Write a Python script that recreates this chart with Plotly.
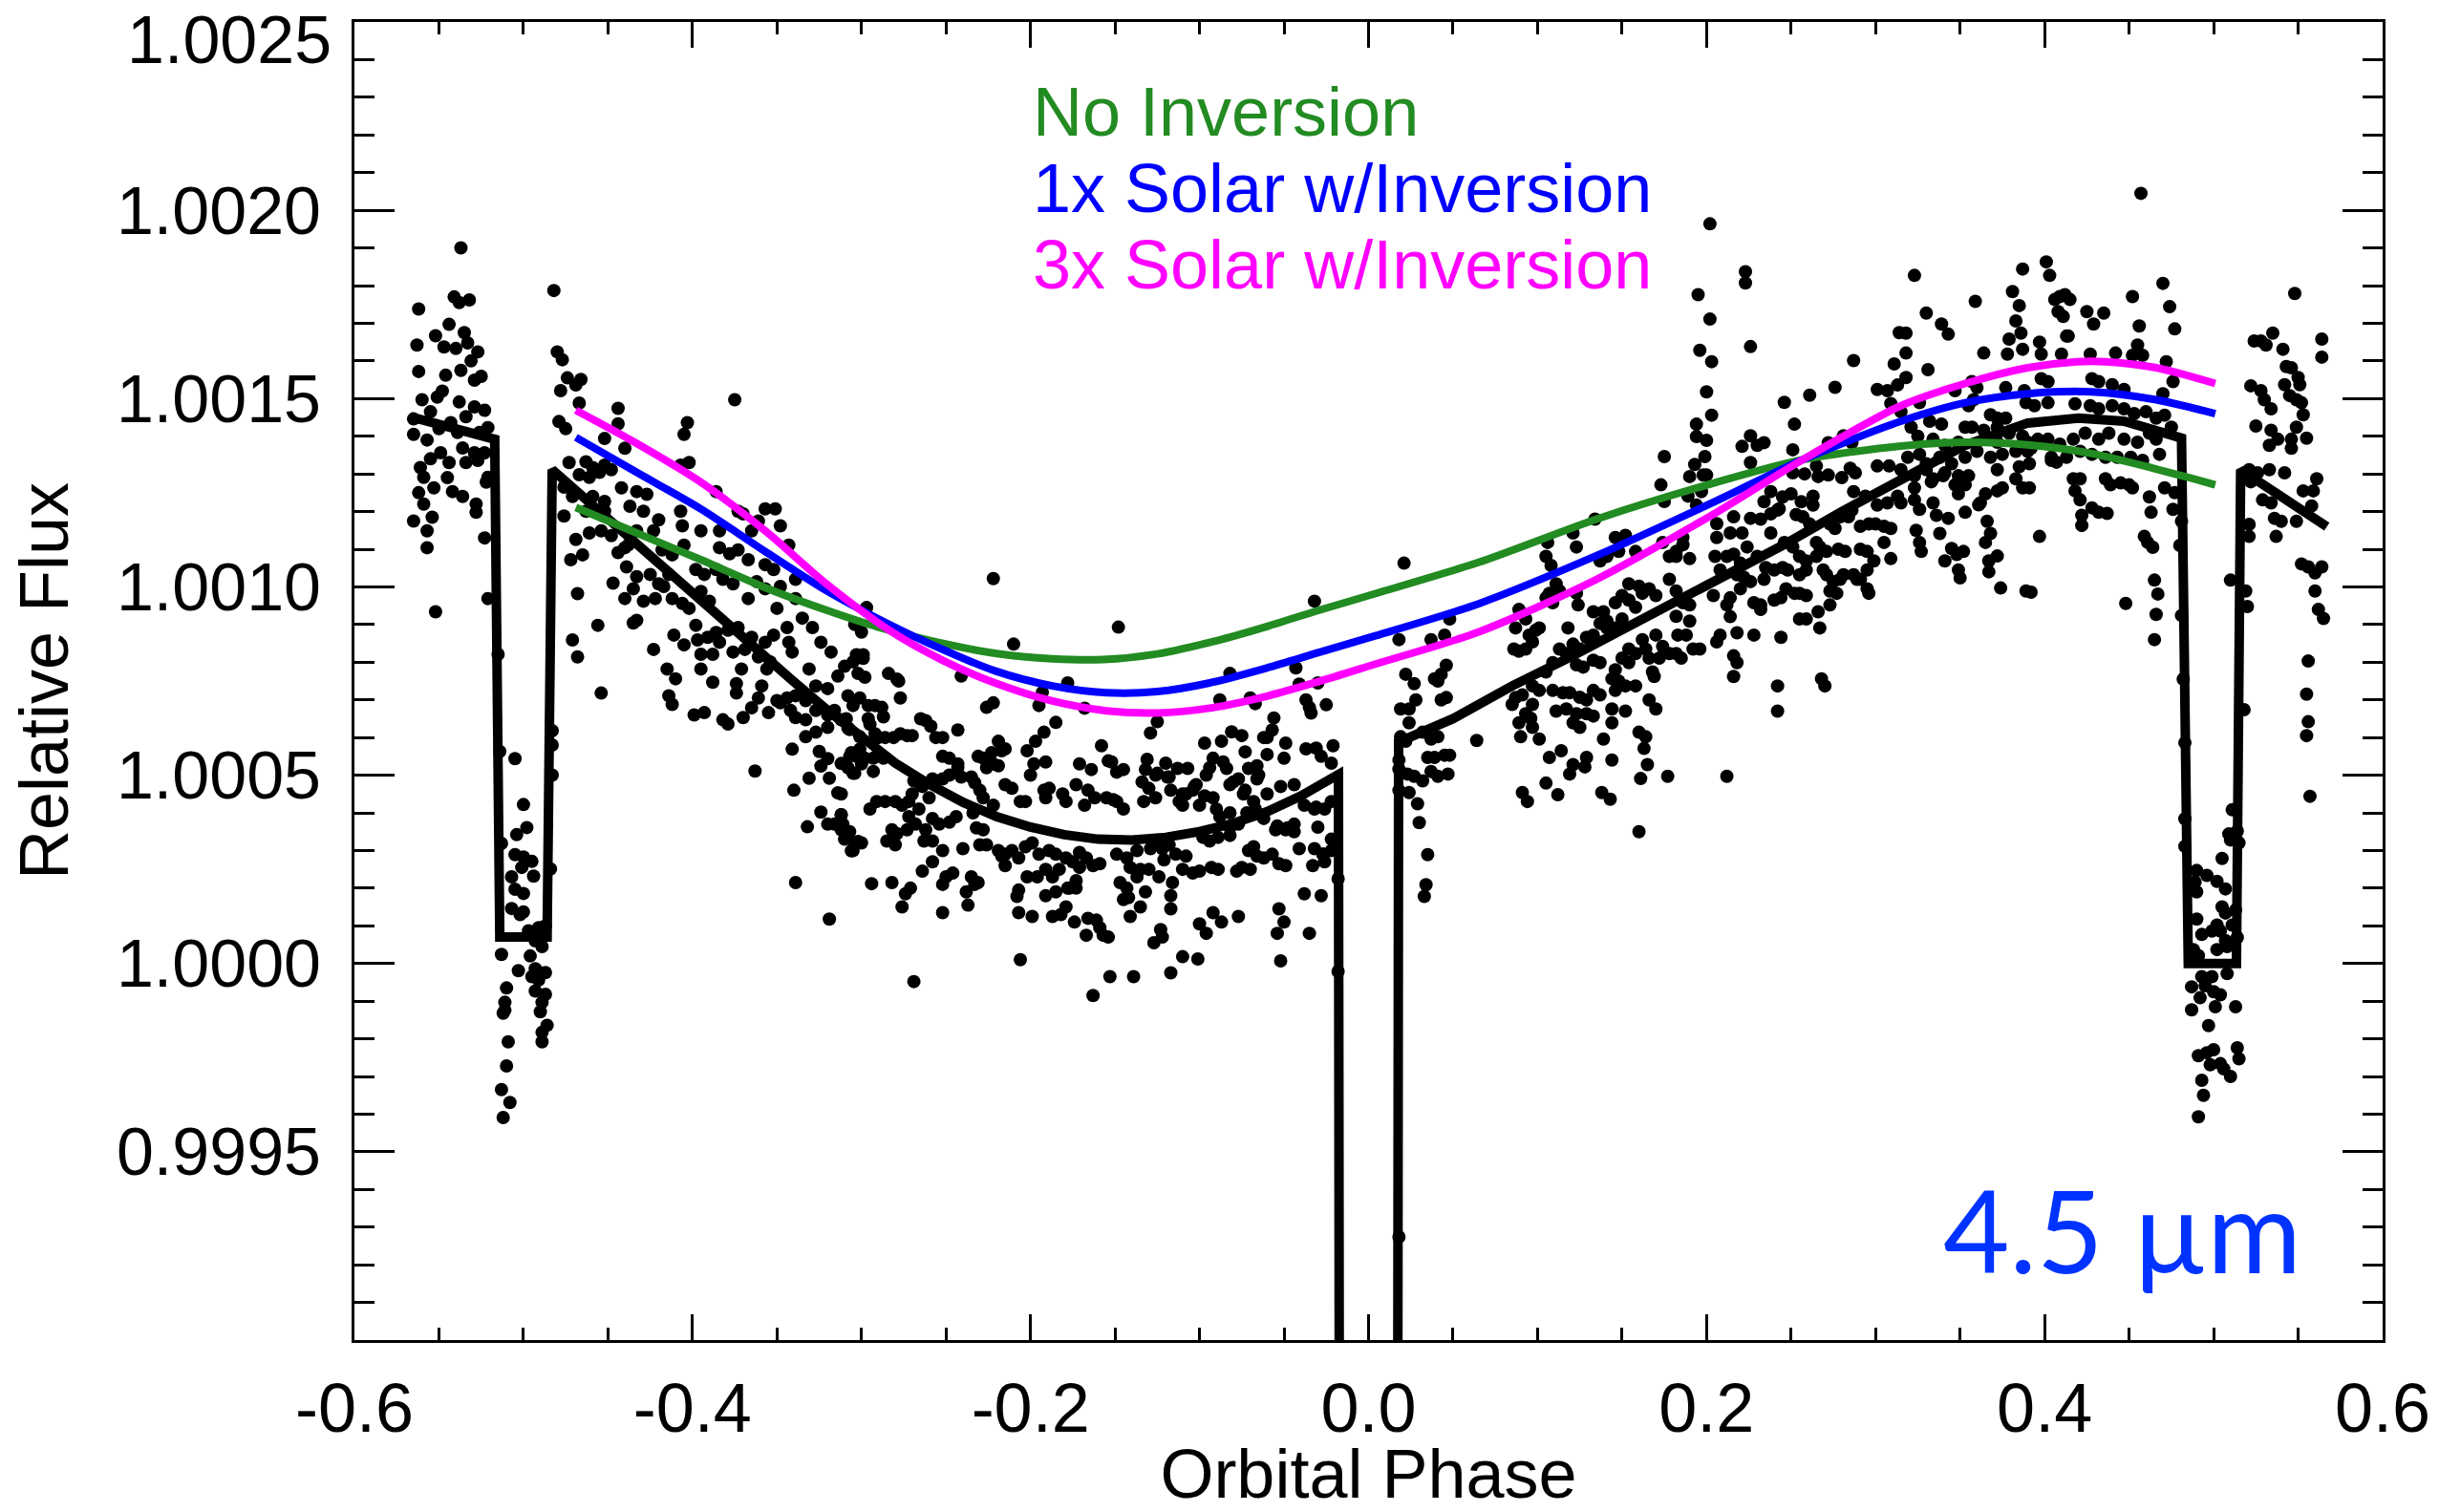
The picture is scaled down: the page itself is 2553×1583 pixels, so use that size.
import plotly.graph_objects as go

# ---------------- axis ticks ----------------
x_tick_vals = [-0.6, -0.4, -0.2, 0.0, 0.2, 0.4, 0.6]
x_tick_text = ["-0.6", "-0.4", "-0.2", "0.0", "0.2", "0.4", "0.6"]
y_tick_vals = [0.9995, 1.0000, 1.0005, 1.0010, 1.0015, 1.0020, 1.0025]
y_tick_text = ["0.9995", "1.0000", "1.0005", "1.0010", "1.0015", "1.0020", ""]
top_tick_label = "1.0025"

# ---------------- observed points: (orbital phase, flux offset in ppm) ----------------
pre_eclipse_1 = [
    (-0.537,1900),(-0.562,1738),(-0.541,1770),(-0.538,1755),(-0.532,1762),(-0.544,1697),(-0.563,1642),
    (-0.552,1667),(-0.547,1637),(-0.540,1633),(-0.535,1675),(-0.533,1648),(-0.527,1624),(-0.562,1572),
    (-0.546,1562),(-0.537,1575),(-0.529,1549),(-0.525,1559),(-0.560,1497),(-0.551,1504),(-0.538,1491),
    (-0.529,1478),(-0.523,1469),(-0.565,1446),(-0.555,1465),(-0.543,1436),(-0.534,1452),(-0.521,1423),
    (-0.565,1405),(-0.539,1410),(-0.529,1356),(-0.523,1356),(-0.561,1317),(-0.555,1340),(-0.549,1356),
    (-0.544,1330),(-0.536,1369),(-0.527,1336),(-0.521,1291),(-0.559,1291),(-0.553,1263),(-0.542,1253),
    (-0.536,1240),(-0.528,1220),(-0.522,1278),(-0.559,1220),(-0.565,1175),(-0.554,1185),(-0.557,1149),
    (-0.557,1104),(-0.528,1198),(-0.523,1130),(-0.552,934),(-0.521,969),(-0.548,1520),(-0.531,1600),
    (-0.557,1390),(-0.545,1290),(-0.526,1410),(-0.550,1420),(-0.534,1330),(-0.562,1250),
]

eclipse_1 = [
    (-0.513,24),(-0.503,-19),(-0.493,-14),(-0.491,-23),(-0.487,-24),(-0.491,-44),(-0.495,-35),(-0.510,-65),
    (-0.493,-73),(-0.487,-82),(-0.489,-103),(-0.511,-103),(-0.512,-132),(-0.511,-124),(-0.490,-128),
    (-0.486,-164),(-0.489,-183),(-0.489,-208),(-0.509,-208),(-0.510,-272),(-0.513,-335),(-0.508,-369),
    (-0.512,-409),(-0.505,544),(-0.500,422),(-0.498,361),(-0.504,342),(-0.505,289),(-0.500,283),
    (-0.495,271),(-0.501,255),(-0.507,230),(-0.494,232),(-0.505,197),(-0.500,186),(-0.507,146),
    (-0.500,137),(-0.497,87),(-0.491,95),(-0.487,100),(-0.483,618),(-0.483,580),(-0.483,500),
    (-0.484,251),(-0.514,563),(-0.513,319),(-0.493,60),(-0.489,45),(-0.496,20),(-0.502,130),
    (-0.515,821),
]

arc_left_a = [
    (-0.482,1787),(-0.480,1624),(-0.477,1603),(-0.474,1555),(-0.469,1536),(-0.466,1551),(-0.478,1521),
    (-0.467,1488),(-0.479,1439),(-0.475,1420),(-0.444,1474),(-0.444,1433),(-0.403,1436),(-0.405,1405),
    (-0.375,1497),(-0.473,1330),(-0.463,1332),(-0.459,1317),(-0.452,1323),(-0.448,1311),(-0.467,1298),
    (-0.461,1291),(-0.455,1304),(-0.440,1368),(-0.452,1394),(-0.476,1265),(-0.471,1240),(-0.442,1263),
    (-0.433,1253),(-0.427,1246),(-0.476,1188),(-0.469,1126),(-0.461,1143),(-0.454,1149),(-0.448,1136),
    (-0.440,1104),(-0.437,1214),(-0.429,1201),(-0.423,1149),(-0.420,1178),(-0.472,1072),(-0.465,1085),
    (-0.444,1091),(-0.438,1111),(-0.407,1323),(-0.402,1330),(-0.407,1201),(-0.406,1162),(-0.386,1253),
    (-0.373,1201),(-0.370,1194),(-0.361,1175),(-0.357,1207),(-0.351,1207),(-0.348,1162),(-0.343,1111),
    (-0.384,1104),(-0.378,1088),(-0.373,1098),(-0.468,982),(-0.456,898),(-0.447,1010),(-0.439,1053),
    (-0.433,1027),(-0.425,1033),(-0.420,1008),(-0.414,1033),(-0.440,969),(-0.435,995),(-0.429,962),
    (-0.422,969),(-0.417,1001),(-0.412,969),(-0.406,956),(-0.402,943),(-0.395,988),(-0.390,962),
    (-0.393,1033),(-0.386,1046),(-0.382,1020),(-0.376,1008),(-0.367,969),(-0.362,1014),(-0.357,995),
    (-0.348,1001),(-0.350,943),(-0.435,904),(-0.433,911),(-0.423,834),(-0.411,872),(-0.405,846),
    (-0.397,859),(-0.391,866),(-0.384,853),(-0.398,898),(-0.386,879),(-0.379,885),(-0.373,892),
    (-0.365,866),(-0.357,853),(-0.352,872),(-0.344,892),(-0.335,917),(-0.341,827),(-0.343,853),
    (-0.395,821),(-0.388,821),(-0.376,827),(-0.369,834),(-0.361,814),(-0.354,801),(-0.415,782),
    (-0.410,756),(-0.395,782),(-0.388,747),(-0.374,743),(-0.371,782),(-0.359,737),(-0.356,782),
    (-0.350,698),(-0.344,705),(-0.339,711),(-0.331,782),(-0.327,737),(-0.333,698),(-0.320,730),
    (-0.316,672),(-0.414,711),(-0.412,688),(-0.399,660),(-0.393,666),(-0.382,647),(-0.379,636),
    (-0.374,718),(-0.370,653),(-0.365,679),(-0.361,705),(-0.355,666),(-0.348,692),(-0.342,672),
    (-0.339,653),(-0.333,647),(-0.327,672),(-0.320,660),(-0.312,647),(-0.307,621),(-0.301,602),
    (-0.341,569),(-0.333,602),(-0.327,614),(-0.320,627),(-0.325,563),(-0.320,544),(-0.312,531),
    (-0.307,550),(-0.301,569),(-0.363,511),(-0.340,460),(-0.331,492),(-0.324,524),(-0.319,492),
    (-0.314,453),(-0.305,505),(-0.324,402),(-0.312,395),(-0.332,363),(-0.320,370),(-0.316,370),
    (-0.307,350),(-0.302,324),(-0.306,299),(-0.339,215),(-0.319,118),(-0.454,718),(-0.471,859),
    (-0.468,814),(-0.463,1201),(-0.452,1201),(-0.459,1240),(-0.452,1227),(-0.433,1149),(-0.418,1098),
    (-0.412,1085),(-0.405,1111),(-0.398,1046),(-0.395,1149),(-0.384,1149),(-0.365,1149),(-0.367,1072),
    (-0.357,1059),(-0.352,1046),(-0.339,1020),(-0.339,969),(-0.329,892),(-0.324,853),(-0.318,827),
    (-0.310,789),(-0.305,801),(-0.314,763),(-0.308,711),(-0.305,685),
]

arc_left_b = [
    (-0.222,1022),(-0.148,893),(-0.032,962),(-0.210,848),(-0.297,945),(-0.300,880),(-0.304,900),
    (-0.241,763),(-0.178,745),(-0.193,720),(-0.195,685),(-0.226,680),(-0.222,692),(-0.168,678),
    (-0.185,640),(-0.192,614),(-0.197,590),(-0.202,565),(-0.082,770),(-0.043,785),(-0.041,742),
    (-0.030,745),(-0.088,700),(-0.070,705),(-0.067,690),(-0.037,700),(-0.035,680),(-0.034,665),
    (-0.025,687),(-0.125,642),(-0.129,612),(-0.056,652),(-0.057,620),(-0.060,600),(-0.062,600),
    (-0.081,615),(-0.075,605),(-0.087,590),(-0.097,585),(-0.073,562),(-0.049,585),(-0.037,570),
    (-0.031,572),(-0.021,578),(-0.050,545),(-0.060,555),(-0.028,550),(-0.022,532),(-0.158,578),
    (-0.131,542),(-0.120,532),(-0.113,518),(-0.107,518),(-0.092,545),(-0.086,535),(-0.084,518),
    (-0.071,518),(-0.066,525),(-0.065,500),(-0.066,490),(-0.171,530),(-0.164,515),(-0.154,538),
    (-0.152,535),(-0.145,515),(-0.149,508),(-0.132,515),(-0.126,500),(-0.119,495),(-0.094,520),
    (-0.096,500),(-0.102,475),(-0.104,460),(-0.110,450),(-0.112,430),(-0.077,490),(-0.080,482),
    (-0.082,475),(-0.074,450),(-0.073,460),(-0.068,430),(-0.060,450),(-0.052,470),(-0.044,475),
    (-0.038,420),(-0.031,415),(-0.026,410),(-0.022,430),(-0.055,355),(-0.048,360),(-0.044,350),
    (-0.041,305),(-0.032,305),(-0.027,290),(-0.033,260),(-0.038,185),(-0.028,180),(-0.053,145),
    (-0.050,110),(-0.054,80),(-0.052,7),(-0.035,80),(-0.077,125),(-0.092,135),(-0.087,110),
    (-0.100,105),(-0.096,80),(-0.110,18),(-0.101,12),(-0.117,-25),(-0.123,90),(-0.122,70),
    (-0.127,55),(-0.117,180),(-0.117,145),(-0.135,150),(-0.132,190),(-0.141,125),(-0.145,170),
    (-0.142,175),(-0.139,-35),(-0.153,-35),(-0.163,-85),(-0.167,75),(-0.157,75),(-0.154,70),
    (-0.159,95),(-0.161,115),(-0.166,120),(-0.174,110),(-0.179,150),(-0.187,125),(-0.182,130),
    (-0.199,125),(-0.207,135),(-0.206,10),(-0.207,195),(-0.208,178),(-0.191,180),(-0.185,190),
    (-0.178,200),(-0.173,200),(-0.238,190),(-0.237,155),(-0.252,135),(-0.276,150),(-0.269,-48),
    (-0.274,185),(-0.271,200),(-0.282,215),(-0.294,212),(-0.304,320),(-0.300,320),(-0.305,300),
    (-0.264,245),(-0.258,270),(-0.252,210),(-0.250,230),(-0.246,240),(-0.235,230),(-0.233,210),
    (-0.231,215),(-0.230,315),(-0.226,315),(-0.240,305),(-0.252,300),(-0.263,325),(-0.258,325),
    (-0.282,355),(-0.279,345),(-0.273,355),(-0.285,325),(-0.280,315),(-0.295,410),(-0.291,430),
    (-0.286,430),(-0.312,450),(-0.312,395),(-0.311,370),(-0.304,505),(-0.303,550),(-0.306,560),
    (-0.293,510),(-0.293,545),(-0.290,560),(-0.287,545),(-0.292,610),(-0.290,600),(-0.286,600),
    (-0.281,600),(-0.295,635),(-0.296,650),(-0.308,625),(-0.309,650),(-0.301,705),(-0.296,685),
    (-0.292,685),(-0.288,680),(-0.287,655),(-0.277,705),(-0.302,770),(-0.298,760),(-0.284,770),
    (-0.279,755),(-0.278,750),(-0.303,820),(-0.299,820),(-0.299,810),(-0.277,610),(-0.273,605),
    (-0.270,605),(-0.265,650),(-0.262,645),(-0.259,630),(-0.256,600),(-0.252,600),(-0.243,620),
    (-0.269,485),(-0.266,480),(-0.258,490),(-0.252,490),(-0.248,500),(-0.243,520),(-0.241,495),
    (-0.235,495),(-0.233,480),(-0.252,550),(-0.248,545),(-0.243,530),(-0.231,550),(-0.228,545),
    (-0.223,560),(-0.219,590),(-0.217,565),(-0.215,570),(-0.226,520),(-0.222,530),(-0.219,525),
    (-0.230,460),(-0.228,440),(-0.222,420),(-0.215,475),(-0.211,465),(-0.206,430),(-0.203,430),
    (-0.198,530),(-0.200,500),(-0.191,535),(-0.189,465),(-0.192,460),(-0.191,440),(-0.181,450),
    (-0.179,430),(-0.173,475),(-0.166,460),(-0.168,420),(-0.162,440),(-0.155,440),(-0.151,435),
    (-0.145,410),(-0.149,430),(-0.134,482),(-0.130,465),(-0.126,440),(-0.133,430),(-0.125,505),
    (-0.118,495),(-0.117,460),(-0.110,420),(-0.108,450),(-0.103,470),(-0.100,420),(-0.097,445),
    (-0.092,440),(-0.090,410),(-0.088,390),(-0.082,400),(-0.077,370),(-0.072,400),(-0.067,410),
    (-0.062,385),(-0.054,365),(-0.049,355),(-0.044,370),(-0.032,410),(-0.030,362),(-0.027,290),
    (-0.026,270),(-0.022,330),(-0.022,300),(-0.066,285),(-0.062,280),(-0.057,290),(-0.053,265),
    (-0.049,260),(-0.071,300),(-0.068,310),(-0.070,250),(-0.075,255),(-0.078,245),(-0.093,255),
    (-0.089,250),(-0.100,245),(-0.104,240),(-0.110,250),(-0.116,215),(-0.122,305),(-0.118,315),
    (-0.114,290),(-0.108,285),(-0.098,335),(-0.094,325),(-0.089,335),(-0.082,340),(-0.082,360),
    (-0.141,255),(-0.137,230),(-0.135,250),(-0.130,250),(-0.124,230),(-0.137,300),(-0.129,305),
    (-0.125,320),(-0.121,275),(-0.149,290),(-0.143,280),(-0.147,215),(-0.143,200),(-0.163,260),
    (-0.159,265),(-0.167,280),(-0.171,255),(-0.185,290),(-0.179,280),(-0.175,270),(-0.171,295),
    (-0.195,290),(-0.189,300),(-0.199,320),(-0.203,310),(-0.219,300),(-0.215,290),(-0.211,300),
    (-0.207,280),(-0.187,230),(-0.183,250),(-0.173,220),(-0.177,200),(-0.191,250),(-0.202,230),
    (-0.196,230),(-0.215,260),(-0.217,285),(-0.262,355),(-0.258,385),(-0.254,370),(-0.248,375),
    (-0.244,390),(-0.234,400),(-0.232,360),(-0.228,355),(-0.272,390),(-0.268,370),(-0.266,410),
    (-0.280,430),(-0.276,420),(-0.272,430),(-0.270,450),(-0.264,470),(-0.260,440),(-0.310,530),
    (-0.308,520),(-0.300,530),(-0.298,545),(-0.312,355),(-0.310,330),(-0.018,225),(-0.018,-21),
]

post_transit = [
    (0.021,1063),(0.018,860),(0.022,768),(0.027,743),(0.028,700),(0.024,639),(0.019,676),(0.024,676),
    (0.037,860),(0.048,915),(0.045,872),(0.039,756),(0.043,768),(0.046,792),(0.041,750),(0.043,700),
    (0.046,706),(0.019,602),(0.022,590),(0.032,614),(0.041,602),(0.037,596),(0.035,547),(0.039,547),
    (0.045,553),(0.048,553),(0.037,510),(0.041,497),(0.047,503),(0.018,516),(0.023,503),(0.027,497),
    (0.032,485),(0.024,454),(0.029,424),(0.030,374),(0.035,289),(0.034,209),(0.033,178),(0.018,540),
    (0.018,460),(0.018,-726),(0.064,592),
]

arc_right_a = [
    (0.202,1964),(0.223,1837),(0.223,1807),(0.195,1776),(0.202,1711),(0.196,1628),(0.203,1598),
    (0.226,1638),(0.200,1518),(0.203,1456),(0.194,1432),(0.194,1399),(0.200,1389),(0.199,1346),
    (0.193,1325),(0.190,1293),(0.198,1297),(0.200,1297),(0.175,1346),(0.173,1271),(0.175,1227),
    (0.189,1241),(0.197,1253),(0.194,1217),(0.226,1401),(0.230,1376),(0.221,1373),(0.234,1383),
    (0.226,1330),(0.246,1490),(0.261,1509),(0.276,1530),(0.252,1432),(0.287,1601),(0.314,1675),
    (0.311,1592),(0.313,1536),(0.301,1524),(0.307,1521),(0.309,1487),(0.251,1364),(0.272,1383),
    (0.281,1401),(0.286,1383),(0.265,1321),(0.272,1297),(0.266,1293),(0.251,1303),(0.258,1300),
    (0.238,1253),(0.245,1239),(0.250,1247),(0.242,1204),(0.280,1290),(0.285,1315),(0.288,1303),
    (0.301,1321),(0.308,1321),(0.234,1226),(0.238,1194),(0.243,1207),(0.256,1226),(0.263,1241),
    (0.263,1217),(0.253,1192),(0.257,1186),(0.261,1167),(0.226,1182),(0.232,1180),(0.216,1186),
    (0.221,1143),(0.214,1143),(0.206,1168),(0.206,1131),(0.287,1253),(0.294,1241),(0.301,1217),
    (0.307,1223),(0.313,1241),(0.286,1204),(0.291,1161),(0.296,1167),(0.300,1167),(0.305,1161),
    (0.309,1155),(0.273,1167),(0.276,1155),(0.279,1186),(0.284,1186),(0.265,1118),(0.267,1106),
    (0.271,1094),(0.278,1100),(0.282,1094),(0.291,1100),(0.295,1094),(0.299,1069),(0.305,1118),
    (0.309,1075),(0.238,1143),(0.246,1118),(0.251,1106),(0.255,1081),(0.259,1069),(0.224,1106),
    (0.230,1081),(0.235,1051),(0.240,1045),(0.245,1051),(0.248,1045),(0.255,1032),(0.259,1045),
    (0.265,1081),(0.269,1045),(0.271,1032),(0.275,1014),(0.279,1020),(0.287,1032),(0.291,1020),
    (0.295,1045),(0.216,1087),(0.220,1063),(0.218,1032),(0.208,1045),(0.205,1081),(0.212,1081),
    (0.220,995),(0.222,1026),(0.226,1014),(0.234,1020),(0.295,995),(0.296,983),(0.289,1020),
    (0.273,989),(0.277,983),(0.281,1032),(0.255,983),(0.259,977),(0.247,995),(0.252,983),
    (0.228,958),(0.232,952),(0.232,940),(0.240,965),(0.244,971),(0.273,952),(0.255,915),
    (0.259,915),(0.266,934),(0.267,891),(0.268,756),(0.270,737),(0.242,737),(0.242,670),
    (0.228,872),(0.244,866),(0.204,977),(0.214,971),(0.212,952),(0.214,921),(0.218,878),
    (0.208,872),(0.206,854),(0.216,817),(0.218,799),(0.216,762),(0.212,497),(0.186,1112),
    (0.190,1075),(0.182,1081),(0.178,1081),(0.174,1118),(0.182,1094),(0.186,1131),(0.178,1020),
    (0.182,989),(0.186,958),(0.190,952),(0.170,977),(0.166,995),(0.162,983),(0.160,1002),
    (0.154,1008),(0.158,946),(0.154,965),(0.150,977),(0.146,958),(0.182,922),(0.190,909),
    (0.188,872),(0.196,835),(0.192,835),(0.183,872),(0.182,823),(0.185,811),(0.170,872),
    (0.174,842),(0.178,823),(0.172,811),(0.164,835),(0.166,811),(0.168,774),(0.154,835),
    (0.158,823),(0.162,860),(0.150,915),(0.146,891),(0.141,909),(0.137,903),(0.133,872),
    (0.129,866),(0.125,835),(0.121,848),(0.117,823),(0.113,835),(0.109,799),(0.105,774),
    (0.137,799),(0.133,805),(0.127,787),(0.123,793),(0.150,811),(0.154,799),(0.146,780),
    (0.144,756),(0.148,750),(0.152,737),(0.146,725),(0.158,737),(0.166,700),(0.170,676),
    (0.169,762),(0.133,725),(0.137,713),(0.129,700),(0.125,707),(0.115,719),(0.119,719),
    (0.111,670),(0.117,676),(0.123,663),(0.129,663),(0.133,657),(0.144,676),(0.152,670),
    (0.121,639),(0.125,627),(0.144,639),(0.139,596),(0.160,614),(0.164,602),(0.163,571),
    (0.109,725),(0.101,725),(0.097,737),(0.091,713),(0.097,688),(0.093,663),(0.089,639),
    (0.090,602),(0.096,651),(0.097,627),(0.101,596),(0.107,547),(0.114,565),(0.121,528),
    (0.128,522),(0.129,547),(0.119,503),(0.144,540),(0.165,528),(0.177,497),(0.161,491),
    (0.087,706),(0.085,688),(0.086,835),(0.089,829),(0.093,835),(0.087,891),(0.093,915),
    (0.089,940),(0.095,872),(0.097,854),(0.099,885),(0.101,891),(0.105,971),(0.111,1008),
    (0.109,958),(0.107,983),(0.113,989),(0.123,983),(0.124,952),(0.118,891),(0.133,934),
    (0.139,934),(0.141,891),(0.105,1081),(0.108,1057),(0.106,1118),(0.121,1143),(0.123,1106),
    (0.134,1180),(0.146,1131),(0.148,1094),(0.152,1137),(0.158,1094),(0.137,1069),(0.141,1081),
    (0.091,454),(0.094,430),(0.105,479),(0.112,448),(0.138,454),(0.143,436),(0.160,350),
]

arc_right_b = [
    (0.457,2045),(0.323,1827),(0.387,1844),(0.401,1863),(0.403,1827),(0.359,1758),(0.381,1784),
    (0.385,1747),(0.383,1706),(0.406,1763),(0.409,1771),(0.412,1776),(0.415,1763),(0.408,1731),
    (0.411,1718),(0.413,1666),(0.330,1727),(0.339,1698),(0.343,1671),(0.425,1731),(0.429,1698),
    (0.435,1727),(0.452,1771),(0.456,1693),(0.470,1806),(0.474,1744),(0.477,1685),(0.379,1658),
    (0.386,1674),(0.378,1618),(0.387,1631),(0.397,1650),(0.398,1618),(0.410,1618),(0.414,1666),
    (0.364,1621),(0.318,1674),(0.318,1621),(0.318,1556),(0.331,1577),(0.427,1618),(0.442,1621),
    (0.452,1615),(0.458,1615),(0.455,1642),(0.472,1598),(0.357,1545),(0.360,1529),(0.377,1529),
    (0.388,1521),(0.398,1553),(0.402,1545),(0.428,1553),(0.432,1545),(0.440,1537),(0.447,1524),
    (0.470,1513),(0.476,1545),(0.347,1521),(0.326,1489),(0.358,1497),(0.368,1457),(0.372,1448),
    (0.377,1448),(0.389,1489),(0.394,1481),(0.402,1489),(0.418,1486),(0.427,1481),(0.432,1473),
    (0.440,1481),(0.447,1473),(0.453,1460),(0.460,1465),(0.466,1448),(0.471,1456),(0.315,1465),
    (0.321,1424),(0.332,1440),(0.339,1432),(0.353,1424),(0.355,1481),(0.357,1424),(0.364,1416),
    (0.372,1424),(0.379,1408),(0.387,1400),(0.390,1384),(0.402,1392),(0.409,1379),(0.417,1392),
    (0.424,1408),(0.432,1392),(0.438,1408),(0.447,1392),(0.455,1384),(0.462,1408),(0.466,1392),
    (0.475,1424),(0.325,1400),(0.334,1392),(0.341,1376),(0.349,1384),(0.319,1344),(0.326,1352),
    (0.330,1327),(0.338,1344),(0.345,1327),(0.353,1344),(0.360,1360),(0.372,1384),(0.383,1360),
    (0.392,1368),(0.396,1392),(0.368,1344),(0.375,1352),(0.390,1360),(0.404,1344),(0.407,1331),
    (0.413,1344),(0.421,1360),(0.428,1352),(0.436,1344),(0.443,1344),(0.451,1344),(0.458,1336),
    (0.468,1352),(0.315,1311),(0.323,1295),(0.330,1311),(0.334,1287),(0.341,1303),(0.349,1295),
    (0.355,1295),(0.372,1311),(0.385,1319),(0.391,1327),(0.404,1336),(0.323,1263),(0.333,1279),
    (0.340,1295),(0.347,1271),(0.353,1271),(0.349,1247),(0.362,1223),(0.365,1247),(0.372,1255),
    (0.375,1263),(0.383,1287),(0.387,1263),(0.391,1263),(0.417,1287),(0.421,1287),(0.418,1255),
    (0.421,1231),(0.436,1287),(0.439,1271),(0.445,1276),(0.450,1271),(0.452,1263),(0.471,1263),
    (0.477,1250),(0.476,1206),(0.315,1223),(0.323,1231),(0.326,1206),(0.334,1223),(0.336,1190),
    (0.343,1182),(0.353,1198),(0.361,1218),(0.428,1210),(0.432,1198),(0.437,1195),(0.422,1190),
    (0.422,1163),(0.324,1150),(0.326,1118),(0.327,1094),(0.338,1142),(0.345,1102),(0.348,1086),
    (0.352,1094),(0.341,1069),(0.349,1045),(0.350,1024),(0.366,1174),(0.368,1142),(0.365,1118),
    (0.372,1082),(0.367,1069),(0.367,1040),(0.374,997),(0.397,1134),(0.389,989),(0.392,986),
    (0.448,956),(0.462,1239),(0.463,1198),(0.459,1134),(0.461,1118),(0.464,1105),(0.465,1018),
    (0.467,981),(0.466,927),(0.465,860),(0.481,1174),(0.480,1110),(0.481,924),(0.482,755),
    (0.483,586),(0.483,384),(0.483,311),
]

eclipse_2 = [
    (0.490,247),(0.496,234),(0.502,218),(0.507,198),(0.489,216),(0.490,190),(0.505,279),(0.509,344),
    (0.511,408),(0.510,328),(0.514,352),(0.515,320),(0.505,150),(0.507,134),(0.511,102),(0.504,86),
    (0.499,86),(0.502,102),(0.490,118),(0.493,77),(0.507,61),(0.508,45),(0.502,37),(0.514,69),
    (0.513,142),(0.488,37),(0.491,21),(0.493,-35),(0.499,-35),(0.495,-59),(0.508,-27),(0.487,-62),
    (0.492,-91),(0.500,-75),(0.504,-83),(0.501,-115),(0.487,-123),(0.513,-115),(0.497,-165),
    (0.491,-245),(0.496,-237),(0.500,-229),(0.498,-269),(0.504,-266),(0.514,-224),(0.515,-253),
    (0.493,-310),(0.491,-407),(0.506,-280),(0.510,-300),(0.494,-350),
]

post_eclipse_2 = [
    (0.548,1779),(0.524,1653),(0.528,1653),(0.531,1642),(0.535,1674),(0.541,1631),(0.564,1658),
    (0.564,1610),(0.543,1585),(0.546,1582),(0.550,1556),(0.551,1537),(0.549,1497),(0.552,1489),
    (0.553,1457),(0.522,1534),(0.528,1521),(0.530,1497),(0.534,1473),(0.542,1537),(0.545,1508),
    (0.525,1427),(0.534,1416),(0.538,1392),(0.546,1392),(0.549,1424),(0.555,1395),(0.533,1376),
    (0.546,1368),(0.521,1311),(0.526,1303),(0.533,1311),(0.522,1279),(0.529,1231),(0.534,1223),
    (0.542,1303),(0.536,1182),(0.540,1174),(0.537,1134),(0.553,1255),(0.559,1255),(0.561,1287),
    (0.549,1174),(0.558,1215),(0.521,1166),(0.521,1134),(0.552,1061),(0.556,1053),(0.560,1037),
    (0.564,1053),(0.560,989),(0.562,940),(0.565,916),(0.510,1018),(0.519,989),(0.520,948),
    (0.556,803),(0.555,715),(0.556,642),(0.555,605),(0.557,444),(0.518,674),
]

# ---------------- model curves: (orbital phase, flux offset in ppm) ----------------
fit_model = [
    (-0.567,1452),(-0.545,1425),(-0.517,1392),(-0.514,70),(-0.486,70),(-0.483,1311),(-0.46,1220),
    (-0.44,1140),(-0.42,1062),(-0.40,980),(-0.38,903),(-0.36,825),(-0.34,748),(-0.32,672),
    (-0.30,598),(-0.28,532),(-0.26,476),(-0.24,428),(-0.22,390),(-0.20,362),(-0.18,342),
    (-0.16,330),(-0.14,328),(-0.12,335),(-0.10,350),(-0.08,372),(-0.06,403),(-0.04,445),
    (-0.0178,502),(-0.0172,-1500),(0.0172,-1500),(0.0178,588),(0.05,650),(0.085,737),(0.12,815),
    (0.166,922),(0.20,1000),(0.247,1115),(0.28,1200),(0.315,1287),(0.353,1376),(0.39,1435),
    (0.42,1448),(0.447,1440),(0.475,1408),(0.481,1395),(0.485,0),(0.5135,0),(0.516,1311),
    (0.54,1240),(0.567,1160),
]

no_inversion = [
    (-0.469,1211),(-0.433,1143),(-0.395,1072),(-0.357,998),(-0.320,937),(-0.290,893),(-0.260,858),
    (-0.220,823),(-0.187,809),(-0.157,807),(-0.125,822),(-0.090,857),(-0.060,895),(-0.030,937),
    (0.004,982),(0.065,1065),(0.135,1180),(0.206,1278),(0.257,1338),(0.315,1374),(0.353,1384),
    (0.390,1377),(0.428,1354),(0.466,1313),(0.501,1271),
]

solar_1x_inversion = [
    (-0.469,1397),(-0.433,1304),(-0.395,1207),(-0.357,1094),(-0.320,988),(-0.290,915),(-0.260,850),
    (-0.221,777),(-0.187,737),(-0.155,719),(-0.125,722),(-0.094,745),(-0.060,785),(-0.030,825),
    (0.004,870),(0.065,955),(0.135,1083),(0.206,1229),(0.257,1338),(0.315,1440),(0.353,1489),
    (0.390,1513),(0.428,1518),(0.466,1497),(0.501,1460),
]

solar_3x_inversion = [
    (-0.469,1469),(-0.433,1381),(-0.395,1278),(-0.357,1149),(-0.320,1005),(-0.282,880),(-0.252,805),
    (-0.221,745),(-0.187,697),(-0.155,671),(-0.125,665),(-0.094,678),(-0.060,710),(-0.030,748),
    (0.004,795),(0.065,880),(0.135,1020),(0.206,1198),(0.257,1338),(0.315,1481),(0.353,1540),
    (0.390,1582),(0.419,1598),(0.436,1598),(0.466,1582),(0.501,1540),
]

legend_labels = ["No Inversion", "1x Solar w/Inversion", "3x Solar w/Inversion"]
legend_colors = ["#228B22", "#0000FF", "#FF00FF"]
legend_flux = [1.002262, 1.002059, 1.001856]
band_label = "4.5 \u00b5m"


def to_xy(pts):
    return [p for p, _ in pts], [1.0 + v * 1e-6 for _, v in pts]


FONT = "Liberation Sans, Arial, Helvetica, sans-serif"

fig = go.Figure()

all_pts = (pre_eclipse_1 + eclipse_1 + arc_left_a + arc_left_b + post_transit
           + arc_right_a + arc_right_b + eclipse_2 + post_eclipse_2)
px, py = to_xy(all_pts)
fig.add_trace(go.Scatter(x=px, y=py, mode="markers",
                         marker=dict(color="black", size=14, line=dict(width=0)),
                         hoverinfo="skip"))

mx, my = to_xy(fit_model)
fig.add_trace(go.Scatter(x=mx, y=my, mode="lines",
                         line=dict(color="black", width=10), hoverinfo="skip"))

for curve, col in zip([no_inversion, solar_1x_inversion, solar_3x_inversion], legend_colors):
    cx, cy = to_xy(curve)
    fig.add_trace(go.Scatter(x=cx, y=cy, mode="lines",
                             line=dict(color=col, width=8, shape="spline", smoothing=0.8),
                             hoverinfo="skip"))

annotations = []
for txt, col, fy in zip(legend_labels, legend_colors, legend_flux):
    annotations.append(dict(x=-0.2, y=fy, xref="x", yref="y", text=txt, showarrow=False,
                            xanchor="left", yanchor="middle",
                            font=dict(family=FONT, size=72, color=col)))
annotations.append(dict(x=0.4457, y=0.999294, xref="x", yref="y", text=band_label,
                        showarrow=False, xanchor="center", yanchor="middle",
                        font=dict(family="Lato, Open Sans, sans-serif", size=120, color="#0033FF")))
annotations.append(dict(x=0, y=1.0025, xref="paper", yref="y", text=top_tick_label,
                        showarrow=False, xanchor="right", yanchor="top",
                        xshift=-22, yshift=22,
                        font=dict(family=FONT, size=70, color="black")))

fig.update_layout(
    width=2553, height=1583,
    margin=dict(l=371, r=59, t=23, b=180, autoexpand=False),
    paper_bgcolor="white", plot_bgcolor="white", showlegend=False,
    font=dict(family=FONT, size=72, color="black"),
    annotations=annotations,
)

fig.update_xaxes(
    range=[-0.6, 0.6], tickmode="array", tickvals=x_tick_vals, ticktext=x_tick_text,
    ticks="inside", ticklen=27, tickwidth=3, tickcolor="black",
    minor=dict(ticks="inside", ticklen=13, tickwidth=3, tickcolor="black",
               tickmode="linear", tick0=-0.6, dtick=0.05),
    showline=True, linewidth=3, linecolor="black", mirror="allticks",
    showgrid=False, zeroline=False, ticklabelstandoff=7,
    tickfont=dict(family=FONT, size=72, color="black"),
    title=dict(text="Orbital Phase", font=dict(family=FONT, size=72, color="black"), standoff=33),
)
fig.update_yaxes(
    range=[0.9990, 1.0025], tickmode="array", tickvals=y_tick_vals, ticktext=y_tick_text,
    ticks="inside", ticklen=42, tickwidth=3, tickcolor="black",
    minor=dict(ticks="inside", ticklen=21, tickwidth=3, tickcolor="black",
               tickmode="linear", tick0=0.9990, dtick=0.0001),
    showline=True, linewidth=3, linecolor="black", mirror="allticks",
    showgrid=False, zeroline=False, ticklabelstandoff=18,
    tickfont=dict(family=FONT, size=70, color="black"),
    title=dict(text="Relative Flux", font=dict(family=FONT, size=72, color="black"), standoff=27),
)

fig.write_html("out.html", config={"displayModeBar": False},
               post_script="document.body.style.margin='0';document.body.style.overflow='hidden';")
